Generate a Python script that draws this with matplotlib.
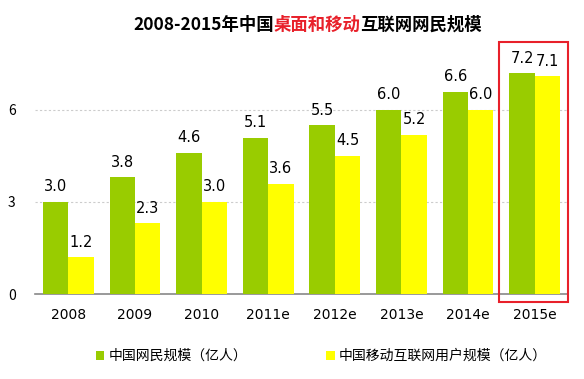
import numpy as np
import matplotlib.pyplot as plt
from matplotlib.patches import Rectangle

plt.rcParams['font.family'] = ['Noto Sans CJK SC', 'DejaVu Sans']

years = ['2008', '2009', '2010', '2011e', '2012e', '2013e', '2014e', '2015e']
netizens = [3.0, 3.8, 4.6, 5.1, 5.5, 6.0, 6.6, 7.2]
mobile = [1.2, 2.3, 3.0, 3.6, 4.5, 5.2, 6.0, 7.1]
label_a = '中国网民规模（亿人）'
label_b = '中国移动互联网用户规模（亿人）'

green = '#99CC00'
yellow = '#FFFF00'

fig = plt.figure(figsize=(5.84, 3.79), dpi=100)
ax = fig.add_axes([35/584, 85/379, 533/584, 254/379])

x = np.arange(len(years))
w = 0.38
b1 = ax.bar(x - w/2, netizens, w, color=green, label=label_a, zorder=3)
b2 = ax.bar(x + w/2, mobile, w, color=yellow, label=label_b, zorder=3)

for xi, v in zip(x, netizens):
    ax.text(xi - w/2, v + 0.25, f'{v:.1f}', ha='center', va='bottom', fontsize=10.5, family='DejaVu Sans')
for xi, v in zip(x, mobile):
    ax.text(xi + w/2, v + 0.25, f'{v:.1f}', ha='center', va='bottom', fontsize=10.5, family='DejaVu Sans')

ax.set_xlim(-0.5, len(years) - 0.5)
ax.set_ylim(0, 254/30.67)
ax.set_yticks([0, 3, 6])
ax.set_xticks(x)
ax.set_xticklabels(years, family='DejaVu Sans', fontsize=10)
ax.tick_params(axis='both', length=0, labelsize=10)
ax.tick_params(axis='x', pad=10)
ax.tick_params(axis='y', pad=14)
ax.yaxis.grid(True, color='#CCCCCC', linestyle=(0, (2, 2)), linewidth=0.8, zorder=0)
for s in ['top', 'right', 'left']:
    ax.spines[s].set_visible(False)
ax.spines['bottom'].set_color('#888888')
ax.spines['bottom'].set_linewidth(1.2)

# highlight box around 2015e
fig.patches.append(Rectangle((499/584, 1 - 302/379), 69/584, 260/379,
                             transform=fig.transFigure, fill=False,
                             edgecolor='#E8202A', linewidth=1.5))

# title in three colours
t1 = fig.text(133/584, 1 - 30/379, '2008-2015年中国', fontsize=12.5, fontweight='bold', color='black')
t2 = ax.annotate('桌面和移动', xy=(1, 0), xycoords=t1, va='bottom', fontsize=12.5,
                 fontweight='bold', color='#E8202A', annotation_clip=False)
t3 = ax.annotate('互联网网民规模', xy=(1, 0), xycoords=t2, va='bottom', fontsize=12.5,
                 fontweight='bold', color='black', annotation_clip=False)

fig.legend(handles=[b1, b2], labels=[label_a, label_b], loc='center',
           bbox_to_anchor=(321.5/584, 1 - 356/379), ncol=2, frameon=False,
           handlelength=0.6, handleheight=0.6, handletextpad=0.3,
           columnspacing=5.7, fontsize=10)

fig.savefig('out.png', dpi=100)
